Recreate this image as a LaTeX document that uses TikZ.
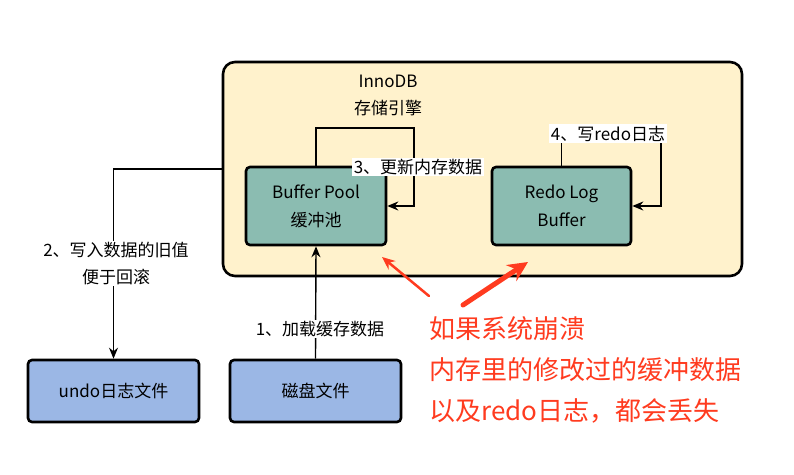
\documentclass[tikz,border=0pt]{standalone}
\usepackage{fontspec}
\setmainfont{Noto Sans CJK SC}
\usetikzlibrary{arrows.meta}
\definecolor{engineyellow}{HTML}{FFF2CC}
\definecolor{poolgreen}{HTML}{8BBCB1}
\definecolor{fileblue}{HTML}{9BB7E5}
\definecolor{warnred}{HTML}{FF3B1F}
\tikzset{
  block/.style={draw,line width=2.6pt,rounded corners=4pt,align=center,inner sep=0pt,font=\fontsize{17}{28}\selectfont},
  steptext/.style={fill=white,inner sep=1.5pt,align=center,font=\fontsize{17}{27}\selectfont},
  lostarrow/.style={draw=warnred,line width=#1,line cap=round}
}
\begin{document}
\begin{tikzpicture}[x=1pt,y=1pt,every path/.style={>={Stealth[length=11pt,width=9pt]}}]
		\useasboundingbox (0,0) rectangle (794,474);
		
		% draw storage engine background
		\node (innodb) at (482.5,305) [block,fill=engineyellow,minimum width=519pt,minimum height=214pt,rounded corners=12pt] {};
		\node (title) at (388,378.5) [align=center,font=\fontsize{17}{27}\selectfont] {InnoDB\\存储引擎};
		
		% draw memory blocks
		\node (bp) at (316,268) [block,fill=poolgreen,minimum width=140pt,minimum height=78pt] {Buffer Pool\\缓冲池};
		\node (redo) at (561.5,268) [block,fill=poolgreen,minimum width=139pt,minimum height=78pt] {Redo Log\\Buffer};
		
		% draw file blocks
		\node (undo) at (113.5,83) [block,fill=fileblue,minimum width=171pt,minimum height=62pt] {undo日志文件};
		\node (disk) at (315.5,83) [block,fill=fileblue,minimum width=171pt,minimum height=62pt] {磁盘文件};
		
		% step 1: load from disk
		\draw[->,line width=1.4pt] (disk.north) to (bp.south);
		\node (load) at (320,145) [steptext] {1、加载缓存数据};
		
		% step 2: old values to undo file
		\draw[->,line width=1.4pt] (innodb.west) -| (undo.north);
		\node (rollback) at (116,210.5) [steptext] {2、写入数据的旧值\\便于回滚};
		
		% step 3: update buffer pool
		\draw[->,line width=1.4pt] (bp.north) |- (414,346) |- (bp.east);
		\node (update) at (418,307) [steptext] {3、更新内存数据};
		
		% step 4: write redo log
		\draw[->,line width=1.4pt] (redo.north) |- (661,341) |- (redo.east);
		\node (writeredo) at (608,340.5) [steptext] {4、写redo日志};
		
		% draw crash note with red arrows
		\node (crash) at (429,104) [anchor=west,text=warnred,align=left,inner sep=0pt,font=\fontsize{26}{41}\selectfont] {如果系统崩溃\\内存里的修改过的缓冲数据\\以及redo日志，都会丢失};
		\coordinate (tailpool) at (429,178);
		\coordinate (tailredo) at (463,169);
		\coordinate (lostpool) at (382,217);
		\coordinate (lostredo) at (528,212);
		\draw[lostarrow=2.5pt,-{Stealth[length=13pt,width=11pt]}] (tailpool) to (lostpool);
		\draw[lostarrow=5pt,-{Stealth[length=20pt,width=19pt]}] (tailredo) to (lostredo);
	\end{tikzpicture}
\end{document}
